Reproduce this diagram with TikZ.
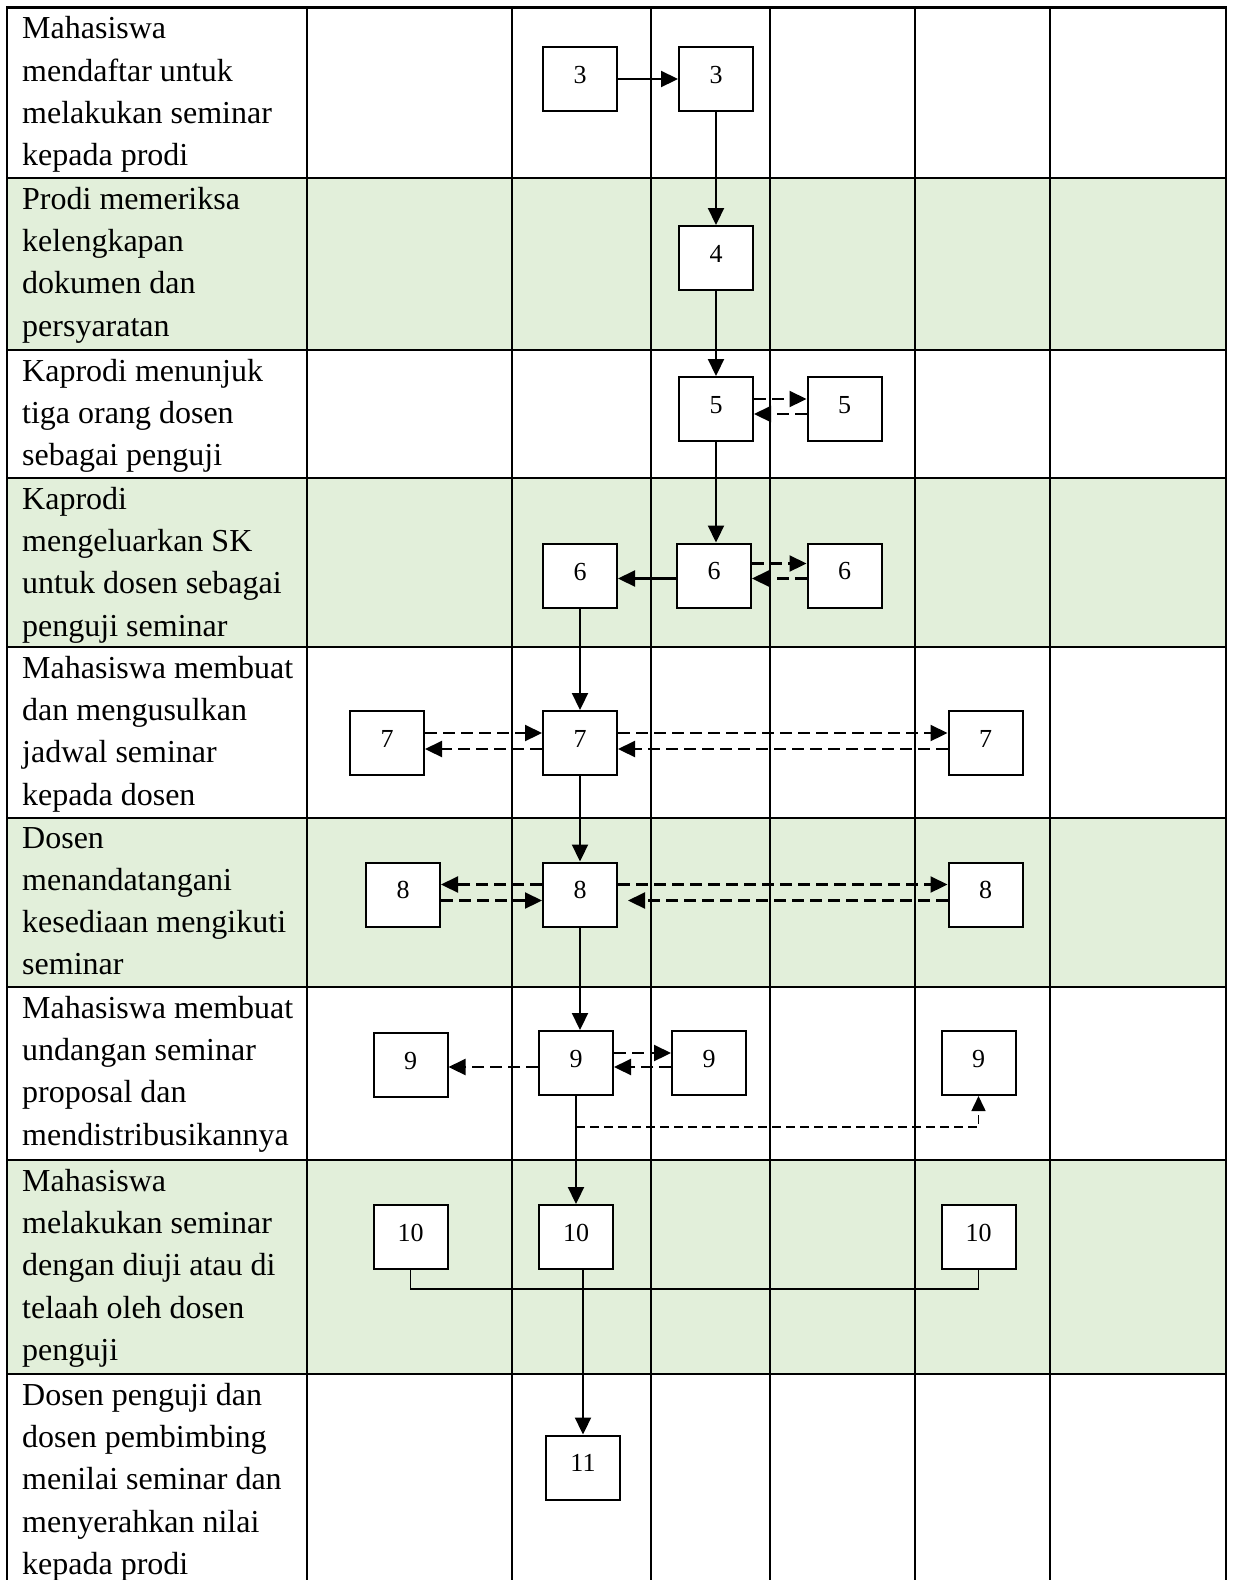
\documentclass[tikz,border=0pt]{standalone}
\usepackage{fontspec}
\setmainfont{Liberation Serif}
\usetikzlibrary{arrows.meta}
\definecolor{rowgreen}{HTML}{E2EFDA}

\begin{document}
\begin{tikzpicture}[x=1pt, y=-1pt,
    grid/.style = {line width=2.6pt, line cap=rect},
    lane/.style = {anchor=north west, inner sep=0pt, align=left, font=\fontsize{32}{42.2}\selectfont},
    box/.style = {draw, line width=2pt, fill=white, minimum width=74pt, minimum height=64pt, inner sep=0pt, text height=18pt, text depth=10pt, font=\fontsize{26}{30}\selectfont},
    flow/.style = {line width=2.2pt, -{Triangle[length=17pt,width=16pt]}},
    back/.style = {flow, dash pattern=on 12pt off 6pt},
    side/.style = {line width=1.6pt}]
    \useasboundingbox (0,0) rectangle (1233,1580);
    % green rows
    \foreach \ya/\yb in {178/350, 478/647, 818/987, 1160/1374}
        \fill[rowgreen] (7,\ya) rectangle (1226,\yb);
    % table
    \foreach \x in {7, 307, 512, 651, 770, 915, 1050, 1226}
        \draw[grid] (\x,7.5) -- (\x,1590);
    \foreach \y in {7.5, 178, 350, 478, 647, 818, 987, 1160, 1374}
        \draw[grid] (7,\y) -- (1226,\y);
    % activities
    \node[lane] (t1) at (22,16.5) {Mahasiswa\\mendaftar untuk\\melakukan seminar\\kepada prodi};
    \node[lane] (t2) at (22,187) {Prodi memeriksa\\kelengkapan\\dokumen dan\\persyaratan};
    \node[lane] (t3) at (22,359) {Kaprodi menunjuk\\tiga orang dosen\\sebagai penguji};
    \node[lane] (t4) at (22,487) {Kaprodi\\mengeluarkan SK\\untuk dosen sebagai\\penguji seminar};
    \node[lane] (t5) at (22,656) {Mahasiswa membuat\\dan mengusulkan\\jadwal seminar\\kepada dosen};
    \node[lane] (t6) at (22,827) {Dosen\\menandatangani\\kesediaan mengikuti\\seminar};
    \node[lane] (t7) at (22,996) {Mahasiswa membuat\\undangan seminar\\proposal dan\\mendistribusikannya};
    \node[lane] (t8) at (22,1169) {Mahasiswa\\melakukan seminar\\dengan diuji atau di\\telaah oleh dosen\\penguji};
    \node[lane] (t9) at (22,1383) {Dosen penguji dan\\dosen pembimbing\\menilai seminar dan\\menyerahkan nilai\\kepada prodi};
    % steps
    \node[box] (b3a) at (580,79) {3};
    \node[box] (b3b) at (716,79) {3};
    \node[box] (b4) at (716,258) {4};
    \node[box] (b5a) at (716,409) {5};
    \node[box] (b5b) at (844.5,409) {5};
    \node[box] (b6a) at (580,576) {6};
    \node[box] (b6b) at (714,575.5) {6};
    \node[box] (b6c) at (844.5,575.5) {6};
    \node[box] (b7a) at (387,743) {7};
    \node[box] (b7b) at (580,743) {7};
    \node[box] (b7c) at (985.5,743) {7};
    \node[box] (b8a) at (403,894.5) {8};
    \node[box] (b8b) at (580,894.5) {8};
    \node[box] (b8c) at (985.5,894.5) {8};
    \node[box] (b9a) at (410.5,1065) {9};
    \node[box] (b9b) at (576,1063) {9};
    \node[box] (b9c) at (709,1063) {9};
    \node[box] (b9d) at (978.5,1063) {9};
    \node[box] (b10a) at (410.5,1237) {10};
    \node[box] (b10b) at (576,1237) {10};
    \node[box] (b10c) at (978.5,1237) {10};
    \node[box] (b11) at (583,1467.5) {11};
    \coordinate (j9) at (576,1127);
    \coordinate (j10) at (580,1289);
    % connectors
    \draw[flow] (b3a) -- (b3b);
    \draw[flow] (b3b) -- (b4);
    \draw[flow] (b4) -- (b5a);
    \draw[flow] (b5a.south) -- (b5a.south |- b6b.north);
    \draw[back] ([yshift=10pt]b5a.east) -- ([yshift=10pt]b5b.west);
    \draw[back] ([yshift=-5pt]b5b.west) -- ([yshift=-5pt]b5a.east);
    \draw[flow] ([yshift=-3pt]b6b.west) -- ([yshift=-3pt]b6b.west -| b6a.east);
    \draw[back] ([yshift=12pt]b6b.east) -- ([yshift=12pt]b6b.east -| b6c.west);
    \draw[back] ([yshift=-3pt]b6c.west) -- ([yshift=-3pt]b6c.west -| b6b.east);
    \draw[flow] (b6a) -- (b7b);
    \draw[back] ([yshift=10pt]b7a.east) -- ([yshift=10pt]b7b.west);
    \draw[back] ([yshift=-6pt]b7b.west) -- ([yshift=-6pt]b7a.east);
    \draw[back] ([yshift=10pt]b7b.east) -- ([yshift=10pt]b7c.west);
    \draw[back] ([yshift=-6pt]b7c.west) -- ([yshift=-6pt]b7b.east);
    \draw[flow] (b7b) -- (b8b);
    \draw[back] ([yshift=10pt]b8b.west) -- ([yshift=10pt]b8a.east);
    \draw[back] ([yshift=-6pt]b8a.east) -- ([yshift=-6pt]b8b.west);
    \draw[back] ([yshift=10pt]b8b.east) -- ([yshift=10pt]b8c.west);
    \draw[back, shorten >=10pt] ([yshift=-6pt]b8c.west) -- ([yshift=-6pt]b8b.east);
    \draw[flow] (b8b.south) -- (b8b.south |- b9b.north);
    \draw[back] ([yshift=-4pt]b9b.west) -- ([yshift=-4pt]b9b.west -| b9a.east);
    \draw[back] ([yshift=10pt]b9b.east) -- ([yshift=10pt]b9c.west);
    \draw[back] ([yshift=-4pt]b9c.west) -- ([yshift=-4pt]b9b.east);
    \draw[flow] (b9b) -- (b10b);
    \draw[side, dash pattern=on 9pt off 5pt, -{Triangle[length=15pt,width=14pt]}] (j9) -| (b9d);
    \draw[side] (b10a.south) |- (j10) -| (b10c.south);
    \draw[flow] (b10b.south -| b11.north) -- (b11.north);
\end{tikzpicture}
\end{document}
